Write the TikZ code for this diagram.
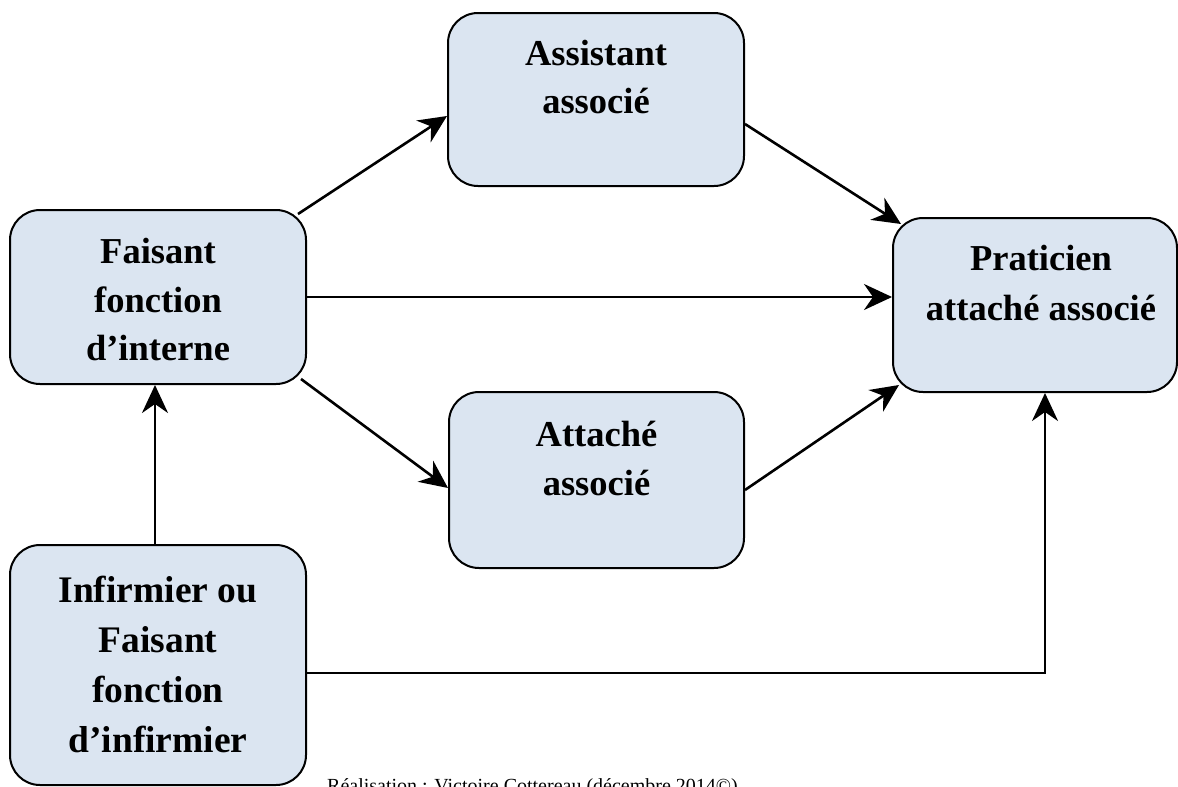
\documentclass[tikz,border=0pt]{standalone}
\usepackage{fontspec}
\setmainfont{Liberation Serif}
\usetikzlibrary{arrows.meta}
\definecolor{boxfill}{RGB}{219,229,241}
\begin{document}
\begin{tikzpicture}[x=1pt,y=-1pt,
  box/.style={draw=black, line width=2pt, fill=boxfill, rounded corners=30pt, inner sep=0pt},
  lbl/.style={anchor=base, font=\fontsize{36.5}{44}\selectfont\bfseries, inner sep=0pt},
  lblb/.style={anchor=base, font=\fontsize{37.5}{44}\selectfont\bfseries, inner sep=0pt},
  conn/.style={line width=2.6pt, -{Stealth[length=28pt,width=26pt,inset=9pt]}}]
\useasboundingbox (0,0) rectangle (1178,787);
% boxes
\node[box, minimum width=296pt, minimum height=174pt] (fai) at (158,297) {};
\node[box, minimum width=296pt, minimum height=173pt] (ass) at (596,99.5) {};
\node[box, minimum width=295pt, minimum height=176pt] (att) at (596.5,480) {};
\node[box, minimum width=284pt, minimum height=174pt] (pra) at (1035,305) {};
\node[box, minimum width=296pt, minimum height=240pt] (inf) at (158,665) {};
% labels
\node[lbl] (fai1) at (158,263) {Faisant};
\node[lbl] (fai2) at (158,312) {fonction};
\node[lbl] (fai3) at (158,360) {d’interne};
\node[lbl] (ass1) at (596,65) {Assistant};
\node[lbl] (ass2) at (596,113) {associé};
\node[lbl] (att1) at (596.5,446) {Attaché};
\node[lbl] (att2) at (596.5,495) {associé};
\node[lbl] (pra1) at (1041,270) {Praticien};
\node[lbl] (pra2) at (1041,320) {attaché associé};
\node[lblb] (inf1) at (158,602) {Infirmier ou};
\node[lblb] (inf2) at (158,652) {Faisant};
\node[lblb] (inf3) at (158,702) {fonction};
\node[lblb] (inf4) at (158,752) {d’infirmier};
% connectors
\draw[conn] ([xshift=-9pt,yshift=-5pt]fai.north east) -- ([yshift=-16.5pt]ass.west);
\draw[conn] ([yshift=-24.5pt]ass.east) -- ([xshift=9pt,yshift=-7pt]pra.north west);
\draw[conn] (fai.east) -- (fai.east -| pra.west);
\draw[conn] ([xshift=-6pt,yshift=6pt]fai.south east) -- ([yshift=-8pt]att.west);
\draw[conn] ([yshift=-10pt]att.east) -- ([xshift=7pt,yshift=8pt]pra.south west);
\draw[conn] ([xshift=-3pt]inf.north) -- ([xshift=-3pt]fai.south);
\draw[conn] ([yshift=-8pt]inf.east) -| ([xshift=10pt]pra.south);
% caption
\node[anchor=base west, font=\fontsize{20}{24}\selectfont, inner sep=0pt] (cap) at (327,792) {Réalisation : Victoire Cottereau (décembre 2014©)};
\end{tikzpicture}
\end{document}
